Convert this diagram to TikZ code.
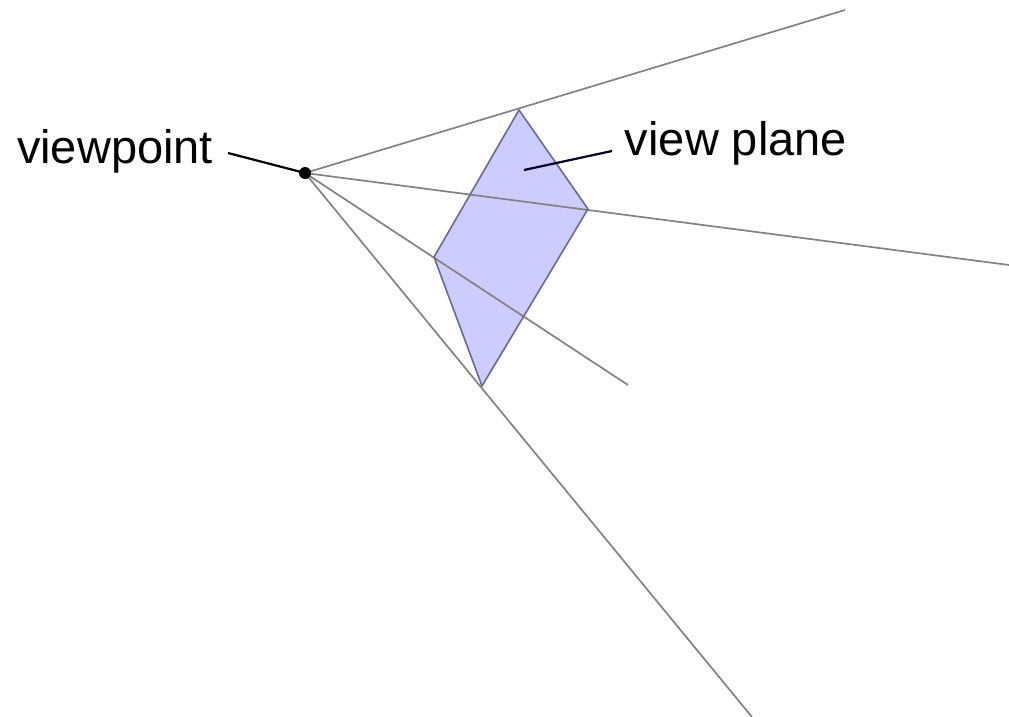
\documentclass[tikz,border=0pt]{standalone}
\usepackage{fontspec}
\setmainfont{Liberation Sans}
\usetikzlibrary{positioning, backgrounds}

\definecolor{planefill}{RGB}{204,204,255}
\definecolor{planeedge}{RGB}{105,105,150}
\definecolor{raygrey}{RGB}{130,130,130}

\tikzset{
  ray/.style={raygrey, line width=1.7pt},
  leader/.style={black, line width=2.2pt},
  lbl/.style={font=\fontsize{47}{54}\selectfont, inner sep=0pt, anchor=base},
}

\begin{document}
\begin{tikzpicture}[x=1pt, y=-1pt]
  \useasboundingbox (0,0) rectangle (1009,717);
  % eye and far ends of the rays
  \node[circle, fill=black, inner sep=0pt, minimum size=12pt] (vp) at (305,173) {};
  \coordinate (farA) at (845,10);
  \coordinate (farB) at (1009,265);
  \coordinate (farC) at (628,385);
  \coordinate (farD) at (752,717);
  % corners of the view plane
  \coordinate (top) at (519,110);
  \coordinate (right) at (588,209);
  \coordinate (bottom) at (482,386);
  \coordinate (left) at (434,257);
  \begin{scope}[on background layer]
    \fill[planefill] (top) -- (right) -- (bottom) -- (left) -- cycle;
    \foreach \far in {farA, farB, farC, farD}
      \draw[ray] (vp.center) -- (\far);
  \end{scope}
  \draw[planeedge, line width=1.6pt, line join=round] (top) -- (right) -- (bottom) -- (left) -- cycle;
  % labels
  \node[lbl] (vplabel) at (115,163) {viewpoint};
  \coordinate (vptail) at (228,153);
  \draw[leader] (vptail) -- (vp.center);
  \node[lbl] (pllabel) at (736,155) {view plane};
  \coordinate (pltail) at (612,151);
  \coordinate (pltip) at (524,170);
  \draw[leader, black!85!blue] (pltail) -- (pltip);
\end{tikzpicture}
\end{document}
